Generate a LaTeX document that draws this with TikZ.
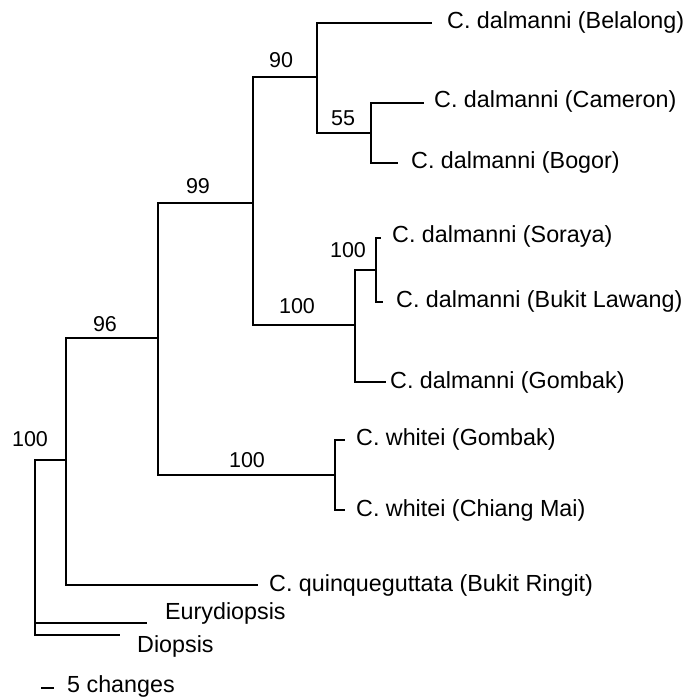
\documentclass[tikz,border=0pt]{standalone}
\usepackage{fontspec}
\setmainfont{Liberation Sans}
\begin{document}
\begin{tikzpicture}[x=1pt,y=-1pt,
  branch/.style={line width=1.3pt, line cap=rect},
  leaf/.style={anchor=base west, inner sep=0pt, font=\fontsize{23.3}{27}\selectfont},
  boot/.style={anchor=base, inner sep=0pt, font=\fontsize{21.5}{26}\selectfont}]
\useasboundingbox (0,0) rectangle (689,698);
% internal nodes
\coordinate (R)   at (35,548);
\coordinate (I)   at (66,460);
\coordinate (N96) at (158,338);
\coordinate (N99) at (253,203);
\coordinate (N90) at (317,77);
\coordinate (N55) at (371,133);
\coordinate (NL)  at (355,325);
\coordinate (NS)  at (376,270);
\coordinate (W)   at (335,475);
% tips
\coordinate (tBel) at (431,23);
\coordinate (tCam) at (423,103);
\coordinate (tBog) at (397,163);
\coordinate (tSor) at (380,238);
\coordinate (tBL)  at (382,302);
\coordinate (tGom) at (385,382);
\coordinate (tWG)  at (344,440);
\coordinate (tWC)  at (344,510);
\coordinate (tQ)   at (257,585);
\coordinate (tE)   at (146,623);
\coordinate (tD)   at (119,635);
% branches
\draw[branch] (R) |- (I);
\draw[branch] (R) |- (tE);
\draw[branch] (R) |- (tD);
\draw[branch] (I) |- (N96);
\draw[branch] (I) |- (tQ);
\draw[branch] (N96) |- (N99);
\draw[branch] (N96) |- (W);
\draw[branch] (N99) |- (N90);
\draw[branch] (N99) |- (NL);
\draw[branch] (N90) |- (tBel);
\draw[branch] (N90) |- (N55);
\draw[branch] (N55) |- (tCam);
\draw[branch] (N55) |- (tBog);
\draw[branch] (NL) |- (NS);
\draw[branch] (NL) |- (tGom);
\draw[branch] (NS) |- (tSor);
\draw[branch] (NS) |- (tBL);
\draw[branch] (W) |- (tWG);
\draw[branch] (W) |- (tWC);
% leaf labels
\node[leaf] (lBel) at (447,29) {C. dalmanni (Belalong)};
\node[leaf] (lCam) at (434,108) {C. dalmanni (Cameron)};
\node[leaf] (lBog) at (411,168) {C. dalmanni (Bogor)};
\node[leaf] (lSor) at (392,242) {C. dalmanni (Soraya)};
\node[leaf] (lBL)  at (396,307) {C. dalmanni (Bukit Lawang)};
\node[leaf] (lGom) at (390,388) {C. dalmanni (Gombak)};
\node[leaf] (lWG)  at (356,445) {C. whitei (Gombak)};
\node[leaf] (lWC)  at (356,516) {C. whitei (Chiang Mai)};
\node[leaf] (lQ)   at (269,591) {C. quinqueguttata (Bukit Ringit)};
\node[leaf] (lE)   at (165,619) {Eurydiopsis};
\node[leaf] (lD)   at (137,652) {Diopsis};
% bootstrap values
\node[boot] (b90)  at (281,68)  {90};
\node[boot] (b55)  at (343,125) {55};
\node[boot] (b99)  at (198,193) {99};
\node[boot] (b100s) at (348,257) {100};
\node[boot] (b100l) at (297,313) {100};
\node[boot] (b96)  at (105,331) {96};
\node[boot] (b100w) at (247,467) {100};
\node[boot] (b100r) at (30,446) {100};
% scale bar
\coordinate (s1) at (41,688);
\coordinate (s2) at (54,688);
\draw[line width=1.3pt] (s1) -- (s2);
\node[leaf] (lScale) at (67,692) {5 changes};
\end{tikzpicture}
\end{document}
